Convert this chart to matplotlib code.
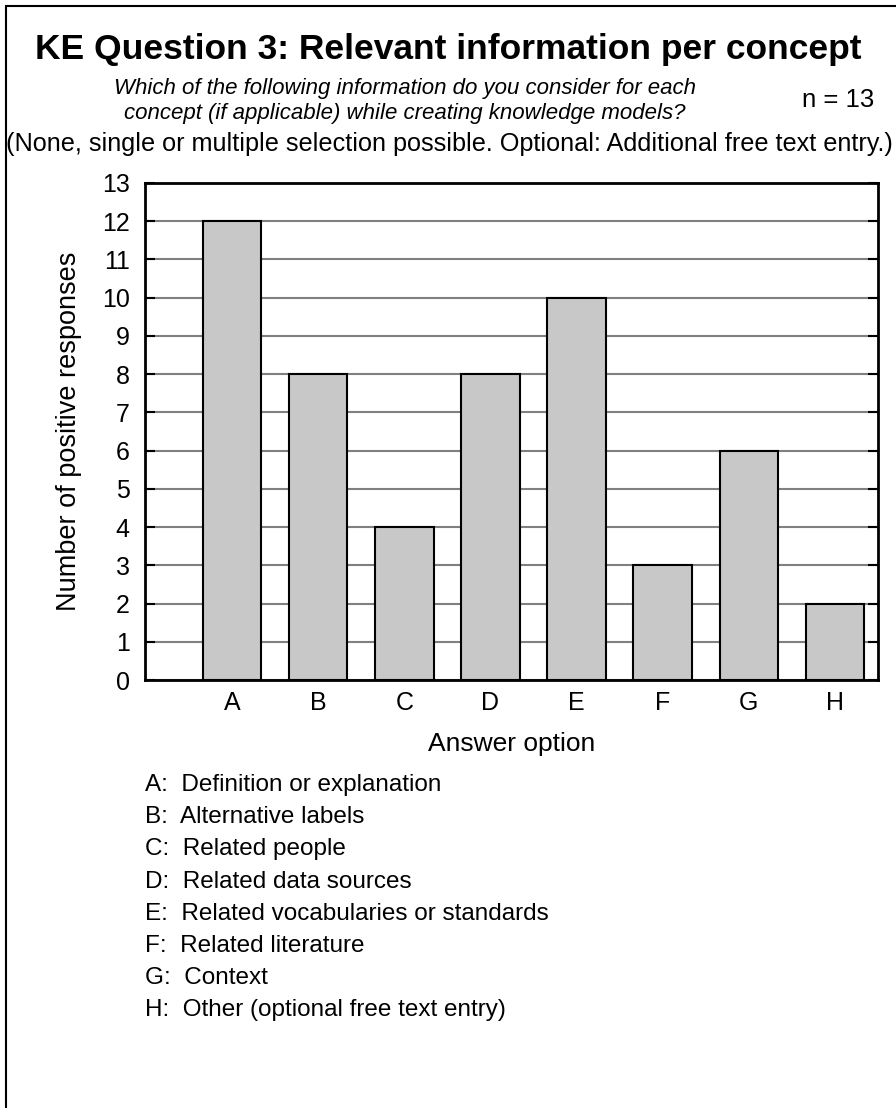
import matplotlib.pyplot as plt
from matplotlib.patches import Rectangle

plt.rcParams['font.family'] = ['Liberation Sans', 'DejaVu Sans']

options = ['A', 'B', 'C', 'D', 'E', 'F', 'G', 'H']
counts = [12, 8, 4, 8, 10, 3, 6, 2]
descriptions = [
    'Definition or explanation',
    'Alternative labels',
    'Related people',
    'Related data sources',
    'Related vocabularies or standards',
    'Related literature',
    'Context',
    'Other (optional free text entry)',
]
n_total = 13

W, H = 896, 1108
fig = plt.figure(figsize=(W / 100, H / 100), dpi=100)

# frame around the whole figure (runs off the right/bottom edge)
fig.patches.append(Rectangle((6 / W, -0.01), 1.0, 1 - 6 / H + 0.01,
                             transform=fig.transFigure, fill=False,
                             edgecolor='black', linewidth=1.5))

ax = fig.add_axes([145 / W, 1 - 680 / H, (878 - 145) / W, (680 - 183) / H])
x = list(range(len(options)))
ax.bar(x, counts, width=0.68, color='#c8c8c8', edgecolor='black',
       linewidth=1.5, zorder=3)
ax.set_xlim(-1.01, 7.5)
ax.set_ylim(0, 13)
ax.set_yticks(range(0, 14))
ax.set_xticks(x)
ax.set_xticklabels(options, fontsize=18)
ax.tick_params(axis='x', length=0, pad=8)
ax.tick_params(axis='y', direction='in', length=7, width=1.5,
               labelsize=18, right=True, pad=11)
ax.yaxis.grid(True, color='#808080', linewidth=1.5, zorder=0)
for s in ax.spines.values():
    s.set_linewidth(2)
ax.set_xlabel('Answer option', fontsize=19, labelpad=12)
ax.set_ylabel('Number of positive responses', fontsize=19.5, labelpad=14)

fig.text(448 / W, 1 - 49 / H, 'KE Question 3: Relevant information per concept',
         ha='center', va='center', fontsize=25.5, fontweight='bold')
fig.text(405 / W, 1 - 101 / H,
         'Which of the following information do you consider for each\n'
         'concept (if applicable) while creating knowledge models?',
         ha='center', va='center', fontsize=16, style='italic',
         linespacing=1.2)
fig.text(838 / W, 1 - 100 / H, 'n = %d' % n_total, ha='center', va='center',
         fontsize=18.5)
fig.text(449 / W, 1 - 144 / H,
         '(None, single or multiple selection possible. '
         'Optional: Additional free text entry.)',
         ha='center', va='center', fontsize=18.2)

for i, (opt, desc) in enumerate(zip(options, descriptions)):
    fig.text(145 / W, 1 - (785 + 32.2 * i) / H, '%s:  %s' % (opt, desc),
             ha='left', va='center', fontsize=17.5)

fig.savefig('out.png', dpi=100)
